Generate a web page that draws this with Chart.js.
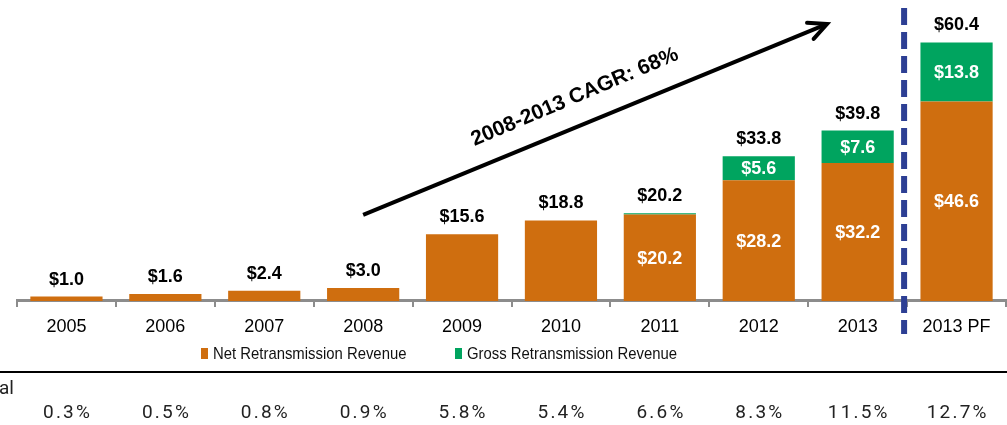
<!DOCTYPE html>
<html><head><meta charset="utf-8">
<script src="https://cdn.jsdelivr.net/npm/chart.js@4"></script>
<style>html,body{margin:0;padding:0;background:#fff;overflow:hidden}#wrap{width:1007px;height:425px;position:relative}</style>
</head><body><div id="wrap"><canvas id="c" width="1007" height="425"></canvas></div>
<script>
const categories = ['2005','2006','2007','2008','2009','2010','2011','2012','2013','2013 PF'];
const netRevenue = [1.0,1.6,2.4,3.0,15.6,18.8,20.2,28.2,32.2,46.6];
const grossRevenue = [0,0,0,0,0,0,0.3,5.6,7.6,13.8];
const totalLabels = ['$1.0','$1.6','$2.4','$3.0','$15.6','$18.8','$20.2','$33.8','$39.8','$60.4'];
const shareOfTotal = ['0.3%','0.5%','0.8%','0.9%','5.8%','5.4%','6.6%','8.3%','11.5%','12.7%'];
const seriesNames = ['Net Retransmission Revenue','Gross Retransmission Revenue'];
const rowLabel = 'al';
const cagrText = '2008-2013 CAGR: 68%';
const arrowStart = [3.0, 20.1];   // [category index, value]
const arrowEnd = [7.69, 64.7];

const ORANGE = '#cf6e0f', GREEN = '#00a45f', BLUE = '#2d3f94';
const SANS = '"Liberation Sans", Arial, sans-serif';
Chart.defaults.font.family = SANS;

function spacedText(ctx, txt, cx, y, spacing) {
  let w = 0; const ws = [];
  for (const ch of txt) { const m = ctx.measureText(ch).width; ws.push(m); w += m; }
  w += spacing * (txt.length - 1);
  let x = cx - w / 2; let i = 0;
  ctx.textAlign = 'left';
  for (const ch of txt) { ctx.fillText(ch, x, y); x += ws[i++] + spacing; }
}

const decor = {
  id: 'decor',
  afterDatasetsDraw(chart) {
    const ctx = chart.ctx, xs = chart.scales.x, ys = chart.scales.y;
    ctx.save();
    categories.forEach((c, i) => {
      const cx = xs.getPixelForValue(i);
      const topPx = ys.getPixelForValue(netRevenue[i] + grossRevenue[i]);
      ctx.font = 'bold 18px ' + SANS;
      ctx.fillStyle = '#000'; ctx.textAlign = 'center'; ctx.textBaseline = 'alphabetic';
      ctx.fillText(totalLabels[i], cx, topPx - 12);
      if (grossRevenue[i] > 0) {
        ctx.fillStyle = '#fff'; ctx.textBaseline = 'middle';
        const nMid = (ys.getPixelForValue(0) + ys.getPixelForValue(netRevenue[i])) / 2;
        ctx.fillText('$' + netRevenue[i].toFixed(1), cx, nMid + 1);
        if (grossRevenue[i] >= 1) {
          const gMid = (ys.getPixelForValue(netRevenue[i]) + topPx) / 2;
          ctx.fillText('$' + grossRevenue[i].toFixed(1), cx, gMid + 1);
        }
      }
    });
    const dx = xs.getPixelForValue(8.5) - 3;
    ctx.strokeStyle = BLUE; ctx.lineWidth = 6; ctx.setLineDash([17, 7]);
    ctx.beginPath(); ctx.moveTo(dx, 8); ctx.lineTo(dx, 334); ctx.stroke();
    ctx.setLineDash([]);
    const x1 = xs.getPixelForValue(arrowStart[0]), y1 = ys.getPixelForValue(arrowStart[1]);
    const x2 = xs.getPixelForValue(arrowEnd[0]), y2 = ys.getPixelForValue(arrowEnd[1]);
    const ang = Math.atan2(y2 - y1, x2 - x1);
    ctx.strokeStyle = '#000'; ctx.lineWidth = 4; ctx.lineCap = 'butt';
    ctx.beginPath(); ctx.moveTo(x1, y1); ctx.lineTo(x2 - 3 * Math.cos(ang), y2 - 3 * Math.sin(ang)); ctx.stroke();
    ctx.lineCap = 'round';
    ctx.beginPath();
    const hl = 20, ha = 0.45;
    ctx.moveTo(x2 - hl * Math.cos(ang - ha), y2 - hl * Math.sin(ang - ha));
    ctx.lineTo(x2, y2);
    ctx.lineTo(x2 - hl * Math.cos(ang + ha), y2 - hl * Math.sin(ang + ha));
    ctx.stroke();
    const tx = xs.getPixelForValue(5.14), ty = ys.getPixelForValue(47.6);
    ctx.translate(tx, ty); ctx.rotate(-23 * Math.PI / 180);
    ctx.font = 'bold 21px ' + SANS; ctx.fillStyle = '#000';
    ctx.textAlign = 'center'; ctx.textBaseline = 'middle';
    ctx.fillText(cagrText, 0, 0);
    ctx.restore();

    ctx.save();
    ctx.font = '17px ' + SANS; ctx.textBaseline = 'middle'; ctx.textAlign = 'left';
    const lx = [201, 455], colors = [ORANGE, GREEN];
    seriesNames.forEach((n, k) => {
      ctx.fillStyle = colors[k]; ctx.fillRect(lx[k], 348, 7, 11);
      ctx.save();
      ctx.translate(lx[k] + 12, 354); ctx.scale(0.875, 1);
      ctx.fillStyle = '#111'; ctx.fillText(n, 0, 0);
      ctx.restore();
    });
    ctx.restore();

    ctx.save();
    ctx.fillStyle = '#000'; ctx.fillRect(0, 371, 1007, 2);
    ctx.font = '19px Roboto, "Open Sans", sans-serif'; ctx.fillStyle = '#222'; ctx.textBaseline = 'middle';
    ctx.textAlign = 'left'; ctx.fillText(rowLabel, -1, 389);
    shareOfTotal.forEach((p, i) => {
      spacedText(ctx, p, xs.getPixelForValue(i), 413, 2.2);
    });
    ctx.restore();
  }
};

function build() {
  new Chart(document.getElementById('c'), {
    type: 'bar',
    data: {
      labels: categories,
      datasets: [
        { label: seriesNames[0], data: netRevenue, backgroundColor: ORANGE, stack: 's' },
        { label: seriesNames[1], data: grossRevenue, backgroundColor: GREEN, stack: 's' }
      ]
    },
    options: {
      responsive: false, animation: false, devicePixelRatio: 1,
      layout: { padding: { top: 27, left: 17, right: 1, bottom: 78.5 } },
      datasets: { bar: { categoryPercentage: 1, barPercentage: 0.73 } },
      plugins: { legend: { display: false }, tooltip: { enabled: false } },
      scales: {
        x: {
          stacked: true,
          grid: { offset: true, drawOnChartArea: false, drawTicks: true, tickLength: 6, color: '#8c8c8c', lineWidth: 2 },
          border: { display: true, color: '#8c8c8c', width: 3 },
          ticks: { color: '#000', font: { size: 18 }, padding: 9, maxRotation: 0, autoSkip: false }
        },
        y: { stacked: true, display: false, min: 0, max: 64 }
      }
    },
    plugins: [decor]
  });
}
Promise.all([
  document.fonts.load('19px Roboto'),
  document.fonts.load('18px "Liberation Sans"'),
  document.fonts.load('bold 18px "Liberation Sans"')
]).then(build, build);
</script></body></html>
